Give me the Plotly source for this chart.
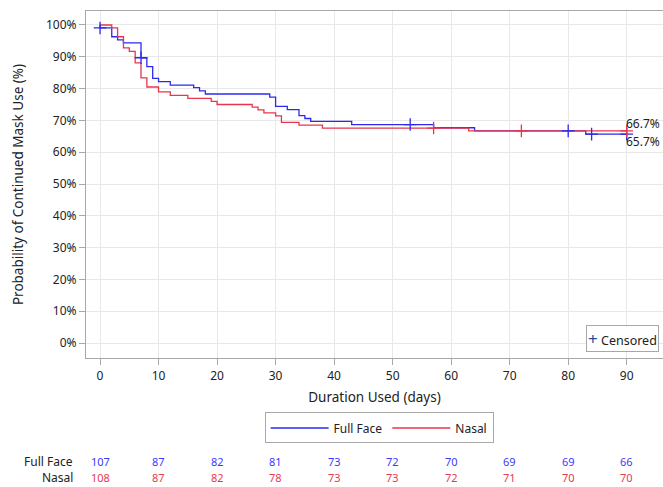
import plotly.graph_objects as go
import bisect

# ---- data ----
ff_days = [0, 0, 2, 3, 4, 7, 8, 9, 10, 12, 16, 17, 18, 29, 30, 32, 34, 35, 36, 43, 57, 64, 83, 90]
ff_surv = [100, 99.07, 96.3, 95.3, 94.4, 89.7, 86.9, 83.2, 82.2, 81.1, 80.3, 79.3, 78.3, 77.3,
           74.4, 73.4, 71.5, 70.6, 69.7, 68.7, 67.7, 66.7, 65.7, 65.7]
nasal_days = [0, 2, 3, 4, 5, 6, 7, 8, 10, 12, 15, 19, 20, 26, 27, 28, 30, 31, 34, 38, 63, 90]
nasal_surv = [100, 99.07, 96.3, 92.8, 91.7, 88.1, 83.4, 80.5, 79.0, 77.9, 76.9, 76.0, 75.0,
              74.2, 73.3, 72.4, 71.4, 69.4, 68.5, 67.6, 66.7, 66.7]
ff_censor_days = [0, 7, 53, 80, 84, 90]
nasal_censor_days = [57, 72, 90]

risk_days = [0, 10, 20, 30, 40, 50, 60, 70, 80, 90]
ff_risk = [107, 87, 82, 81, 73, 72, 70, 69, 69, 66]
nasal_risk = [108, 87, 82, 78, 73, 73, 72, 71, 70, 70]

x_ticks = list(range(0, 91, 10))
y_ticks = list(range(0, 101, 10))
y_tick_labels = [f"{v}%" for v in y_ticks]

BLUE = "#2b2bef"
RED = "#e8364e"
BLUE_TXT = "#3a3aff"
RED_TXT = "#e63a55"
FONT = "Noto Sans"


def surv_at(days, surv, t):
    i = bisect.bisect_right(days, t) - 1
    return surv[max(i, 0)]


fig = go.Figure()
fig.add_trace(go.Scatter(x=ff_days, y=ff_surv, mode="lines", line_shape="hv",
                         line=dict(color=BLUE, width=1.3), name="Full Face"))
fig.add_trace(go.Scatter(x=nasal_days, y=nasal_surv, mode="lines", line_shape="hv",
                         line=dict(color=RED, width=1.3), name="Nasal"))
fig.add_trace(go.Scatter(x=ff_censor_days, y=[surv_at(ff_days, ff_surv, t) for t in ff_censor_days],
                         mode="markers", showlegend=False, hoverinfo="skip",
                         marker=dict(symbol="cross-thin", size=9, line=dict(color=BLUE, width=1.3))))
fig.add_trace(go.Scatter(x=nasal_censor_days, y=[surv_at(nasal_days, nasal_surv, t) for t in nasal_censor_days],
                         mode="markers", showlegend=False, hoverinfo="skip",
                         marker=dict(symbol="cross-thin", size=9, line=dict(color=RED, width=1.3))))

annotations = []
annotations.append(dict(x=90, y=nasal_surv[-1], xref="x", yref="y", text=f"{nasal_surv[-1]:.1f}%",
                        showarrow=False, xanchor="left", yanchor="middle", xshift=-3, yshift=7,
                        font=dict(size=12, color="#222", family=FONT)))
annotations.append(dict(x=90, y=ff_surv[-1], xref="x", yref="y", text=f"{ff_surv[-1]:.1f}%",
                        showarrow=False, xanchor="left", yanchor="middle", xshift=-3, yshift=-7,
                        font=dict(size=12, color="#222", family=FONT)))
for d, a, b in zip(risk_days, ff_risk, nasal_risk):
    annotations.append(dict(x=d, y=-0.2997, xref="x", yref="paper", text=str(a), showarrow=False,
                            xanchor="center", yanchor="middle", font=dict(size=11, color=BLUE_TXT, family=FONT)))
    annotations.append(dict(x=d, y=-0.3458, xref="x", yref="paper", text=str(b), showarrow=False,
                            xanchor="center", yanchor="middle", font=dict(size=11, color=RED_TXT, family=FONT)))
annotations.append(dict(x=-0.019, y=-0.2997, xref="paper", yref="paper", text="Full Face", showarrow=False,
                        xanchor="right", yanchor="middle", font=dict(size=12, color="#222", family=FONT)))
annotations.append(dict(x=-0.019, y=-0.3458, xref="paper", yref="paper", text="Nasal", showarrow=False,
                        xanchor="right", yanchor="middle", font=dict(size=12, color="#222", family=FONT)))
# "Censored" legend box inside the plot
annotations.append(dict(x=0.993, y=0.017, xref="paper", yref="paper",
                        text="<span style='color:#1f4e9e;font-size:17px'>+</span> Censored", showarrow=False,
                        xanchor="right", yanchor="bottom", bordercolor="#a8a8a8", borderwidth=1,
                        borderpad=1, bgcolor="white", font=dict(size=12.5, color="#222", family=FONT)))

fig.update_layout(
    width=663, height=487,
    margin=dict(l=86, r=0, t=11, b=129),
    paper_bgcolor="white", plot_bgcolor="white",
    font=dict(family=FONT, size=12, color="#222"),
    xaxis=dict(range=[-2.4, 96.2], tickvals=x_ticks, showgrid=True, gridcolor="#e8e8e8",
               showline=True, mirror=True, linecolor="#a8a8a8", linewidth=1.2,
               ticks="outside", ticklen=6, tickcolor="#a8a8a8", zeroline=False,
               title=dict(text="Duration Used (days)", font=dict(size=13.5), standoff=10),
               tickfont=dict(size=12)),
    yaxis=dict(range=[-4.7, 104.4], tickvals=y_ticks, ticktext=y_tick_labels, showgrid=True,
               gridcolor="#e8e8e8", showline=True, mirror=True, linecolor="#a8a8a8", linewidth=1.2,
               ticks="outside", ticklen=6, tickcolor="#a8a8a8", zeroline=False,
               title=dict(text="Probability of Continued Mask Use (%)", font=dict(size=13.5), standoff=19),
               tickfont=dict(size=12)),
    legend=dict(orientation="h", x=0.508, xanchor="center", y=-0.2017, yanchor="middle",
                bordercolor="#a8a8a8", borderwidth=1, font=dict(size=12), bgcolor="white",
                itemwidth=58),
    annotations=annotations,
    showlegend=True,
)

fig.write_html("out.html", config={"displayModeBar": False},
               post_script="document.body.style.margin='0';document.body.style.overflow='hidden';")
